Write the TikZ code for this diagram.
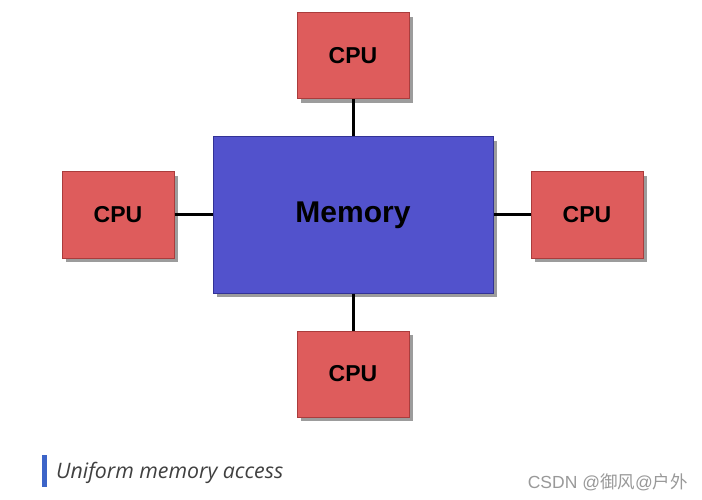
\documentclass[tikz,border=0pt]{standalone}
\usepackage{fontspec}
\newfontfamily\boxfont{Liberation Sans}
\newfontfamily\capfont{Open Sans}
\newfontfamily\cjk{Noto Sans CJK SC}
\usetikzlibrary{positioning,shadows}
\definecolor{cpured}{RGB}{222,92,92}
\definecolor{cpuedge}{RGB}{170,60,60}
\definecolor{memblue}{RGB}{82,82,204}
\definecolor{memedge}{RGB}{50,50,150}
\definecolor{capblue}{RGB}{60,100,200}
\tikzset{
    cpubox/.style={draw=cpuedge, fill=cpured, line width=1pt,
        minimum width=112pt, minimum height=86pt, inner sep=0pt,
        font=\boxfont\bfseries\fontsize{23}{27}\selectfont,
        drop shadow={shadow xshift=4pt, shadow yshift=-4pt, fill=black!55, opacity=0.7}},
    membox/.style={draw=memedge, fill=memblue, line width=1pt,
        minimum width=280pt, minimum height=156pt, inner sep=0pt,
        font=\boxfont\bfseries\fontsize{30}{36}\selectfont,
        drop shadow={shadow xshift=4pt, shadow yshift=-4pt, fill=black!55, opacity=0.7}},
    linkline/.style={line width=3pt, black}
}

\begin{document}
\begin{tikzpicture}[x=1pt, y=1pt, node distance=37pt]
\useasboundingbox (0,0) rectangle (702,-500);
\fill[white] (0,0) rectangle (702,-500);
\node[membox] (mem) at (353,-215) {Memory};
\node[cpubox, above=of mem] (cputop) {CPU};
\node[cpubox, left=38pt of mem] (cpuleft) {CPU};
\node[cpubox, right=of mem] (cpuright) {CPU};
\node[cpubox, below=of mem] (cpubottom) {CPU};
\draw[linkline] (cputop) -- (mem);
\draw[linkline] (cpuleft) -- (mem);
\draw[linkline] (cpuright) -- (mem);
\draw[linkline] (cpubottom) -- (mem);
% caption
\fill[capblue] (42,-455) rectangle (46.5,-487);
\node[anchor=base west, inner sep=0pt, text=black!75,
    font=\capfont\itshape\fontsize{21.3}{25}\selectfont] (caption) at (56,-478) {Uniform memory access};
\node[anchor=base east, inner sep=0pt, text=black!40,
    font=\fontsize{17.5}{21}\selectfont] (mark) at (688,-488)
    {{\boxfont CSDN @}{\cjk 御风}{\boxfont @}{\cjk 户外}};
\end{tikzpicture}
\end{document}
